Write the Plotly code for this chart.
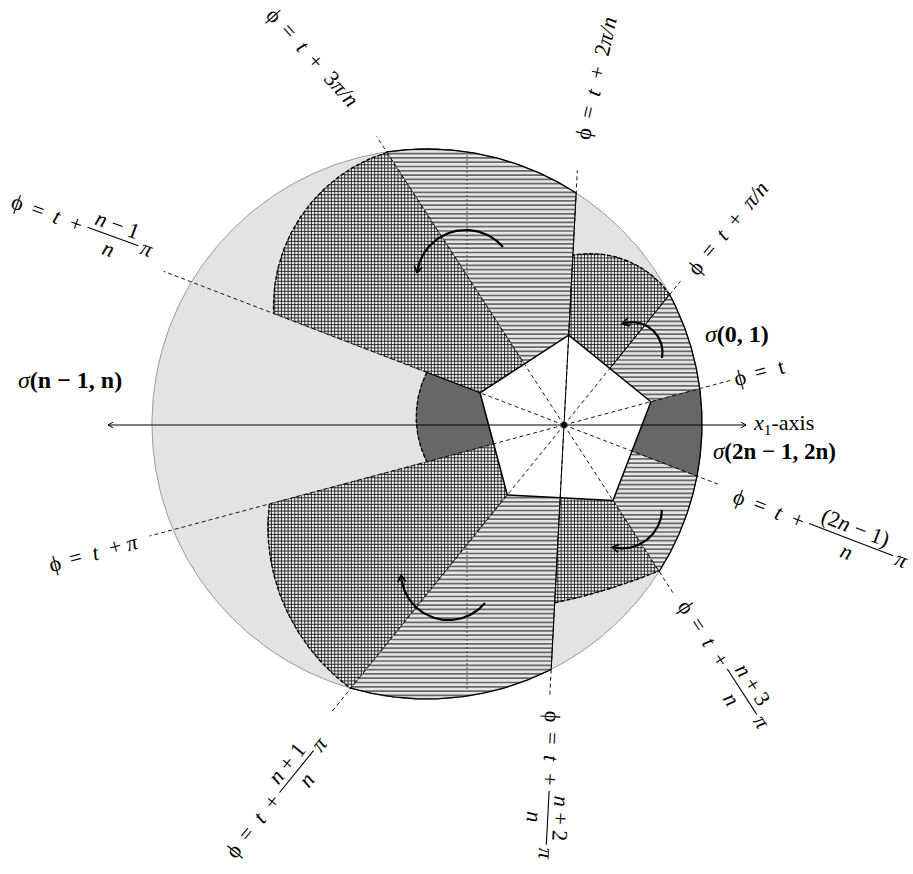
import numpy as np
import plotly.graph_objects as go

W, H = 913, 874
OX, OY = 564, 425            # pentagon centre, page pixels

# rays phi = t + k*pi/n  (n = 5, t = 15 degrees)
T_DEG = 15.0
N = 5
RAYS = [T_DEG + k * 180.0 / N for k in range(2 * N)]
RAY_LEN = [172, 185, 255, 344, 429, 429, 371, 273, 200, 168]
SOLID_RAYS = {51: (72.8, 168), 87: (0, 233), 159: (90, 147), 267: (0, 245)}

PENT_R = 90.0
DISC_C = (-137.0, 1.0)
DISC_R = 275.0

STRIPED = [(15, 51), (87, 123), (231, 267), (303, 339)]
DARK = [(339, 375)]
CROSS = [(51, 87), (123, 159), (195, 231), (267, 303)]
CROSS_R = [[168, 176, 170], [325, 336, 311], [305, 333, 339], [178, 170, 174]]
PIECE = (159, 195)
PIECE_R = [147, 148, 142]

# rotation arrows: start, middle, end (page pixels)
ARROWS = [[(503, 247), (467, 230), (417, 273)],
          [(662, 358), (650, 328), (622, 324)],
          [(485, 603), (447, 620), (401, 575)],
          [(662, 510), (650, 537), (612, 547)]]

FONT = "Liberation Serif"
FS = 22


def S(X, Y):
    return (X - OX, OY - Y)


def pol(r, deg):
    a = np.radians(deg)
    return r * np.cos(a), r * np.sin(a)


APO = PENT_R * np.cos(np.radians(36))


def pent_r(theta):
    d = ((theta - 51.0) + 36.0) % 72.0 - 36.0
    return APO / np.cos(np.radians(d))


def disc_r(theta):
    a = np.radians(theta)
    b = np.cos(a) * DISC_C[0] + np.sin(a) * DISC_C[1]
    return b + np.sqrt(b * b - (DISC_C[0] ** 2 + DISC_C[1] ** 2) + DISC_R ** 2)


def quad_r(a0, a1, rs):
    co = np.polyfit([a0, (a0 + a1) / 2, a1], rs, 2)
    return lambda th: np.polyval(co, th)


def sector_poly(a0, a1, rfun, n=90):
    th = np.linspace(a0, a1, n)
    ro = np.array([rfun(t) for t in th])
    thi = th[::-1]
    ri = np.array([pent_r(t) for t in thi])
    x = np.concatenate([ro * np.cos(np.radians(th)), ri * np.cos(np.radians(thi))])
    y = np.concatenate([ro * np.sin(np.radians(th)), ri * np.sin(np.radians(thi))])
    return np.append(x, x[0]), np.append(y, y[0]), th, ro


def hatch(px, py, spacing, horizontal=True, phase=0.5):
    """Parallel hatch segments clipped to a closed polygon."""
    a, b = (py, px) if horizontal else (px, py)
    k0 = int(np.ceil((a.min() - phase) / spacing))
    k1 = int(np.floor((a.max() - phase) / spacing))
    sa, sb = [], []
    for k in range(k0, k1 + 1):
        c = phase + k * spacing
        cuts = []
        for i in range(len(a) - 1):
            a1, a2 = a[i], a[i + 1]
            if (a1 <= c < a2) or (a2 <= c < a1):
                t = (c - a1) / (a2 - a1)
                cuts.append(b[i] + t * (b[i + 1] - b[i]))
        cuts.sort()
        for j in range(0, len(cuts) - 1, 2):
            sb += [cuts[j], cuts[j + 1], None]
            sa += [c, c, None]
    return (sb, sa) if horizontal else (sa, sb)


fig = go.Figure()


def line(x, y, color='black', width=1.0, dash='solid'):
    fig.add_trace(go.Scatter(x=x, y=y, mode='lines', hoverinfo='skip',
                             line=dict(color=color, width=width, dash=dash)))


def filled(x, y, color, edge='#333', ew=0.5):
    fig.add_trace(go.Scatter(x=x, y=y, mode='lines', fill='toself', fillcolor=color,
                             line=dict(color=edge, width=ew), hoverinfo='skip'))


def arc_xy(th, ro):
    return ro * np.cos(np.radians(th)), ro * np.sin(np.radians(th))


# the disc
tt = np.linspace(0, 2 * np.pi, 361)
filled(DISC_C[0] + DISC_R * np.cos(tt), DISC_C[1] + DISC_R * np.sin(tt), '#e3e3e3',
       edge='#9a9a9a', ew=1)

# striped sectors
for a0, a1 in STRIPED:
    x, y, th, ro = sector_poly(a0, a1, disc_r)
    filled(x, y, '#e6e6e6')
    hx, hy = hatch(x, y, 4.3)
    line(hx, hy, color='#686868', width=1.7)
    line(*arc_xy(th, ro), width=1.3)

# dark sector sigma(2n-1, 2n)
for a0, a1 in DARK:
    x, y, th, ro = sector_poly(a0, a1, disc_r)
    filled(x, y, '#676767')
    line(*arc_xy(th, ro), width=1.3)

# vertical dotted guide (shows through the striped sectors only)
gx = S(467, 0)[0]
line([gx, gx], [S(0, 155)[1], S(0, 691)[1]], color='#333', width=0.8, dash='2px,2px')

# cross-hatched rotated copies
for (a0, a1), rs in zip(CROSS, CROSS_R):
    x, y, th, ro = sector_poly(a0, a1, quad_r(a0, a1, rs))
    filled(x, y, '#f2f2f2')
    hx, hy = hatch(x, y, 3.33)
    line(hx, hy, color='#1a1a1a', width=0.9)
    vx, vy = hatch(x, y, 3.33, horizontal=False)
    line(vx, vy, color='#1a1a1a', width=0.9)
    line(*arc_xy(th, ro), width=1.3, dash='4px,2px')

# dark piece in sigma(n-1, n)
x, y, th, ro = sector_poly(PIECE[0], PIECE[1], quad_r(PIECE[0], PIECE[1], PIECE_R))
filled(x, y, '#676767')
line(*arc_xy(th, ro), width=1.3, dash='4px,2px')

# pentagon
pv = [pol(PENT_R, T_DEG + 72 * k) for k in range(6)]
filled([p[0] for p in pv], [p[1] for p in pv], 'white', edge='black', ew=1.5)

# rays
for ang, ln in zip(RAYS, RAY_LEN):
    x1, y1 = pol(ln, ang)
    line([0, x1], [0, y1], width=0.9, dash='4px,3px')
for ang, (r0, r1) in SOLID_RAYS.items():
    xa, ya = pol(r0, ang)
    xb, yb = pol(r1, ang)
    line([xa, xb], [ya, yb], width=1.0)


def head(tip, direction, size=8, width=1.6):
    d = np.array(direction, float)
    d /= np.hypot(*d)
    for s in (1, -1):
        c, sn = np.cos(np.radians(30 * s)), np.sin(np.radians(30 * s))
        bx = -(d[0] * c - d[1] * sn)
        by = -(d[0] * sn + d[1] * c)
        line([tip[0] + size * bx, tip[0]], [tip[1] + size * by, tip[1]], width=width)


# x1 axis
xa0, xa1 = S(108, 0)[0], S(746, 0)[0]
line([xa0, xa1], [0, 0], width=1.1)
head((xa0, 0), (-1, 0), size=6, width=1.0)
head((xa1, 0), (1, 0), size=6, width=1.0)
fig.add_trace(go.Scatter(x=[0], y=[0], mode='markers', marker=dict(color='black', size=6),
                         hoverinfo='skip'))


def arc3(p1, p2, p3, n=60):
    (x1, y1), (x2, y2), (x3, y3) = p1, p2, p3
    dd = 2 * (x1 * (y2 - y3) + x2 * (y3 - y1) + x3 * (y1 - y2))
    ux = ((x1**2 + y1**2) * (y2 - y3) + (x2**2 + y2**2) * (y3 - y1) + (x3**2 + y3**2) * (y1 - y2)) / dd
    uy = ((x1**2 + y1**2) * (x3 - x2) + (x2**2 + y2**2) * (x1 - x3) + (x3**2 + y3**2) * (x2 - x1)) / dd
    r = np.hypot(x1 - ux, y1 - uy)
    a1, a2, a3 = [np.arctan2(py - uy, px - ux) for px, py in (p1, p2, p3)]
    sw = (a3 - a1) % (2 * np.pi)
    s2 = (a2 - a1) % (2 * np.pi)
    if s2 > sw:
        sw -= 2 * np.pi
    t = a1 + np.linspace(0, sw, n)
    return ux + r * np.cos(t), uy + r * np.sin(t)


for pts in ARROWS:
    ax, ay = arc3(*[S(*p) for p in pts])
    line(ax, ay, width=2.2)
    head((ax[-1], ay[-1]), (ax[-1] - ax[-4], ay[-1] - ay[-4]), size=8, width=1.6)

# ---- text ----
ann = []


def txt(x, y, s, ang=0, size=FS, anchor='center'):
    ann.append(dict(x=x, y=y, text=s, textangle=ang, showarrow=False, xanchor=anchor,
                    yanchor='middle', font=dict(family=FONT, size=size, color='black')))


def phi_label(X, Y, ang, tail=None, tail_w=0, frac=None, bar=52, t_upright=False):
    p = np.array(S(X, Y))
    a = np.radians(ang)
    d = np.array([np.cos(a), -np.sin(a)])
    v = np.array([np.sin(a), np.cos(a)])

    def at(u, w=0.0):
        q = p + u * d + w * v
        return q[0], q[1]

    txt(*at(0), 'ϕ', ang)
    txt(*at(21), '=', ang)
    txt(*at(42), 't' if t_upright else '<i>t</i>', ang)
    if tail is None and frac is None:
        return
    txt(*at(62), '+', ang)
    if tail is not None:
        txt(*at(74 + tail_w / 2), tail, ang)
    if frac is not None:
        u0 = 74
        xb0, yb0 = at(u0)
        xb1, yb1 = at(u0 + bar)
        line([xb0, xb1], [yb0, yb1], width=1.1)
        txt(*at(u0 + bar / 2, 13), frac[0], ang)
        txt(*at(u0 + bar / 2, -13), frac[1], ang)
        txt(*at(u0 + bar + 9), '<i>π</i>', ang)


phi_label(740, 377, -15, t_upright=True)
phi_label(695, 267, -50, tail='<i>π/n</i>', tail_w=40)
phi_label(583, 133, -77, tail='2<i>π/n</i>', tail_w=50)
phi_label(275, 15, 48, tail='3<i>π/n</i>', tail_w=50)
phi_label(18, 202, 20, frac=('<i>n</i> − 1', '<i>n</i>'), bar=54)
phi_label(55, 563, -15, tail='<i>π</i>', tail_w=12)
phi_label(233, 850, -51, frac=('<i>n</i> + 1', '<i>n</i>'), bar=54)
phi_label(553, 717, 93, frac=('<i>n</i> + 2', '<i>n</i>'), bar=54)
phi_label(687, 607, 57, frac=('<i>n</i> + 3', '<i>n</i>'), bar=54)
phi_label(740, 497, 21, frac=('(2<i>n</i> − 1)', '<i>n</i>'), bar=90)

txt(*S(703, 334), '<i>σ</i><b>(0, 1)</b>', size=24, anchor='left')
txt(*S(711, 451), '<i>σ</i><b>(2n − 1, 2n)</b>', size=23, anchor='left')
txt(*S(16, 380), '<i>σ</i><b>(n − 1, n)</b>', size=24, anchor='left')
txt(*S(751, 424), '<i>x</i><sub>1</sub>-axis', size=22, anchor='left')

fig.update_layout(
    width=W, height=H, margin=dict(l=0, r=0, t=0, b=0),
    paper_bgcolor='white', plot_bgcolor='white', showlegend=False,
    xaxis=dict(range=[-OX, W - OX], visible=False, fixedrange=True),
    yaxis=dict(range=[OY - H, OY], visible=False, fixedrange=True),
    annotations=ann,
)
fig.write_html("out.html")
